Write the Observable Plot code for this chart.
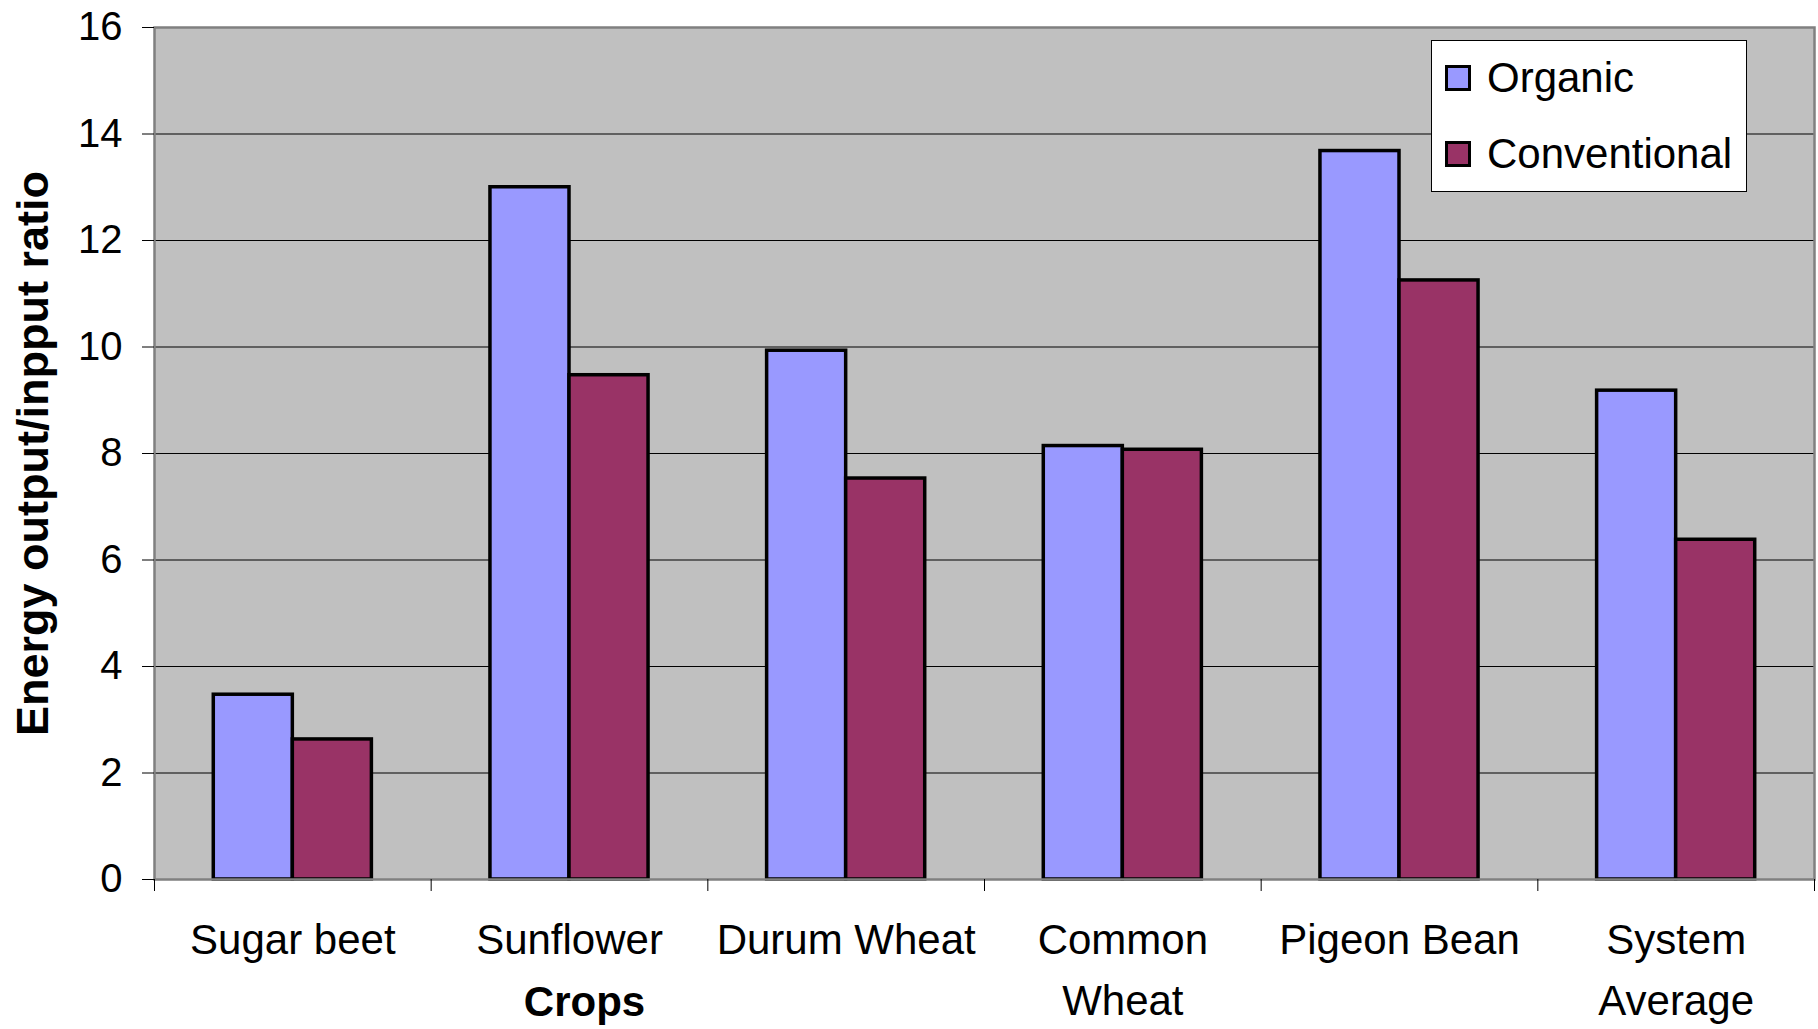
<!DOCTYPE html>
<html>
<head>
<meta charset="utf-8">
<script src="https://cdn.jsdelivr.net/npm/d3@7"></script>
<script src="https://cdn.jsdelivr.net/npm/@observablehq/plot@0.6"></script>
<style>
  html, body { margin: 0; padding: 0; background: #fff; }
  #chart { position: relative; width: 1818px; height: 1029px; font-family: "Liberation Sans", Arial, sans-serif; }
  #chart svg { position: absolute; left: 0; top: 0; }
  .legend { position: absolute; left: 1431px; top: 40px; width: 314px; height: 150px; background: #fff; border: 1px solid #000; }
  .legend .item { position: absolute; left: 13px; display: flex; align-items: center; font-size: 42px; line-height: 1; color: #000; white-space: nowrap; }
  .legend .swatch { width: 20px; height: 20px; border: 3px solid #000; margin-right: 16px; }
</style>
</head>
<body>
<div id="chart"></div>
<script>
// Energy output/input ratio per crop, organic vs conventional management
const crops = ["Sugar beet", "Sunflower", "Durum Wheat", "Common\nWheat", "Pigeon Bean", "System\nAverage"];
const series = ["Organic", "Conventional"];
const organic = [3.47, 13.0, 9.93, 8.14, 13.68, 9.18];
const conventional = [2.63, 9.47, 7.53, 8.07, 11.25, 6.38];
const seriesColors = ["#9999FF", "#993366"];
const yTicks = [0, 2, 4, 6, 8, 10, 12, 14, 16];
const yTitle = "Energy output/inpput ratio";
const xTitle = "Crops";

// Clustered columns: the gap between clusters is 1.5 bar widths
const gapWidth = 1.5;
const barWidth = 1 / (series.length + gapWidth);
const rows = [];
[organic, conventional].forEach((values, j) => {
  values.forEach((v, i) => {
    const x1 = i + (gapWidth / 2 + j) * barWidth;
    rows.push({crop: crops[i], series: series[j], value: v, x1, x2: x1 + barWidth});
  });
});
const centers = crops.map((_, i) => i + 0.5);
const bounds = d3.range(crops.length + 1);

const chart = Plot.plot({
  width: 1818,
  height: 1029,
  marginLeft: 154,
  marginRight: 4,
  marginTop: 27,
  marginBottom: 150,
  style: {fontFamily: "'Liberation Sans', Arial, sans-serif", fontSize: "40px", color: "#000", background: "transparent", overflow: "visible"},
  x: {domain: [0, crops.length]},
  y: {domain: [yTicks[0], yTicks[yTicks.length - 1]]},
  color: {domain: series, range: seriesColors},
  marks: [
    Plot.frame({fill: "#C0C0C0"}),
    Plot.ruleY(yTicks.slice(1, -1), {stroke: "#000", strokeWidth: 1}),
    Plot.rectY(rows, {x1: "x1", x2: "x2", y1: 0, y2: "value", fill: "series", stroke: "#000", strokeWidth: 3.5}),
    Plot.frame({stroke: "#808080", strokeWidth: 2.5}),
    Plot.axisY({ticks: yTicks, tickSize: 12, tickPadding: 20, fontSize: 40, label: null}),
    Plot.axisX({ticks: bounds, tickSize: 12, tickFormat: () => "", label: null}),
    Plot.axisX({ticks: centers, tickSize: 0, tickPadding: 31, tickFormat: (d) => crops[Math.floor(d)], fontSize: 42, lineHeight: 1.45, label: null}),
    Plot.text([yTitle], {text: (d) => d, frameAnchor: "left", textAnchor: "middle", rotate: -90, dx: -121, fontSize: 45, fontWeight: "bold"}),
    Plot.text([xTitle], {text: (d) => d, frameAnchor: "bottom-left", textAnchor: "middle", dx: 430, dy: 107, lineAnchor: "top", fontSize: 42, fontWeight: "bold"})
  ]
});

const container = document.getElementById("chart");
container.appendChild(chart);

// Legend box in the upper right of the plotting area
const legend = document.createElement("div");
legend.className = "legend";
const rowTops = [16, 92];
series.forEach((name, j) => {
  const item = document.createElement("div");
  item.className = "item";
  item.style.top = rowTops[j] + "px";
  const sw = document.createElement("span");
  sw.className = "swatch";
  sw.style.background = seriesColors[j];
  const label = document.createElement("span");
  label.textContent = name;
  item.appendChild(sw);
  item.appendChild(label);
  legend.appendChild(item);
});
container.appendChild(legend);
</script>
</body>
</html>
